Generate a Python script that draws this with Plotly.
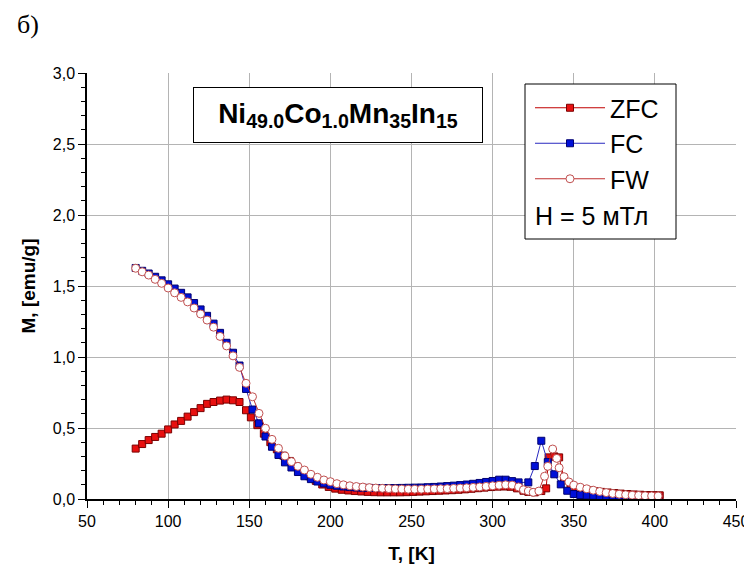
import plotly.graph_objects as go

# ---------------- data ----------------
T_zfc = [80, 84, 88, 92, 96, 100, 104, 108, 112, 116, 120, 124, 128, 132, 136, 140, 144, 148,
         151, 155, 159, 163, 167, 171, 175, 179, 183, 187, 191, 195, 199, 203, 207, 211, 215, 219,
         223, 227, 231, 235, 239, 243, 247, 251, 255, 259, 263, 267, 271, 275, 279, 283, 287, 291,
         295, 299, 303, 307, 311, 315, 319,
         322, 326, 330, 333, 334.5, 338, 341, 344, 348, 351,
         355, 359, 363, 367, 371, 375, 379, 383, 387, 391, 395, 399, 403]
M_zfc = [0.355, 0.387, 0.415, 0.437, 0.46, 0.49, 0.525, 0.55, 0.58, 0.612, 0.64, 0.67, 0.683, 0.693,
         0.70, 0.695, 0.683, 0.625,
         0.575, 0.52, 0.46, 0.40, 0.35, 0.305, 0.268, 0.232, 0.195, 0.16, 0.128, 0.102, 0.085, 0.073,
         0.065, 0.06, 0.056, 0.053, 0.05, 0.048, 0.047, 0.047, 0.047, 0.047, 0.048, 0.05, 0.052, 0.054,
         0.056, 0.058, 0.06, 0.062, 0.065, 0.068, 0.072, 0.076, 0.08, 0.084, 0.087, 0.088, 0.086, 0.075,
         0.058,
         0.05, 0.047, 0.056, 0.075, 0.293, 0.30, 0.293, 0.146, 0.099, 0.08,
         0.07, 0.062, 0.055, 0.05, 0.046, 0.042, 0.038, 0.035, 0.032, 0.03, 0.028, 0.027, 0.026]

T_fc = [80, 84, 88, 92, 96, 100, 104, 108, 112, 116, 120, 124, 128, 132, 136, 140, 144,
        148, 152, 156, 160, 164, 168, 172, 176, 180, 184, 188, 192, 196, 200, 204, 208, 212, 216,
        220, 224, 228, 232, 236, 240, 244, 248, 252, 256, 260, 264, 268, 272, 276, 280, 284, 288,
        292, 296, 300, 304, 308, 312, 316,
        322, 326, 330, 334, 338, 342, 346, 350, 354,
        358, 362, 366, 370, 374, 378, 382, 386, 390, 394, 398, 402]
M_fc = [1.627, 1.607, 1.588, 1.565, 1.54, 1.512, 1.482, 1.452, 1.42, 1.38, 1.335, 1.29, 1.235,
        1.17, 1.10, 1.03, 0.94,
        0.775, 0.63, 0.533, 0.44, 0.368, 0.31, 0.258, 0.222, 0.19, 0.16, 0.14, 0.123, 0.11, 0.10,
        0.093, 0.088, 0.084, 0.081, 0.079, 0.078, 0.077, 0.077, 0.077, 0.077, 0.078, 0.079, 0.08,
        0.081, 0.083, 0.085, 0.088, 0.091, 0.094, 0.098, 0.102, 0.107, 0.113, 0.12, 0.127, 0.136,
        0.136, 0.126, 0.117,
        0.117, 0.232, 0.41, 0.26, 0.174, 0.103, 0.058, 0.035, 0.028,
        0.025, 0.023, 0.021, 0.02, 0.019, 0.018, 0.017, 0.016, 0.016, 0.015, 0.015, 0.014]

T_fw = [80, 84, 88, 92, 96, 100, 104, 108, 112, 116, 120, 124, 128, 132, 136, 140, 144,
        148, 152, 156, 160, 164, 168, 172, 176, 180, 184, 188, 192, 196, 200, 204, 208, 212, 216,
        220, 224, 228, 232, 236, 240, 244, 248, 252, 256, 260, 264, 268, 272, 276, 280, 284, 288,
        292, 296, 300, 304, 308, 312, 316,
        319, 322, 325, 328.5, 332, 334, 337, 339.5, 341, 344, 347, 350,
        354, 358, 362, 366, 370, 374, 378, 382, 386, 390, 394, 398, 402]
M_fw = [1.625, 1.60, 1.577, 1.547, 1.519, 1.486, 1.452, 1.42, 1.388, 1.345, 1.303, 1.26, 1.21,
        1.145, 1.078, 1.008, 0.927,
        0.815, 0.72, 0.603, 0.498, 0.42, 0.357, 0.303, 0.263, 0.23, 0.204, 0.174, 0.153, 0.134,
        0.122, 0.108, 0.10, 0.093, 0.088, 0.084, 0.08, 0.077, 0.075, 0.073, 0.071, 0.07, 0.069,
        0.069, 0.069, 0.07, 0.071, 0.072, 0.073, 0.075, 0.077, 0.079, 0.082, 0.085, 0.089, 0.093,
        0.097, 0.10, 0.098, 0.085,
        0.065, 0.056, 0.047, 0.056, 0.16, 0.23, 0.352, 0.286, 0.22, 0.157, 0.12, 0.098,
        0.083, 0.072, 0.062, 0.053, 0.045, 0.039, 0.034, 0.03, 0.027, 0.025, 0.023, 0.022, 0.021]

x_ticks = [50, 100, 150, 200, 250, 300, 350, 400, 450]
y_ticks = [0.0, 0.5, 1.0, 1.5, 2.0, 2.5, 3.0]

series_names = ["ZFC", "FC", "FW"]
title_text = "<b>Ni<sub>49.0</sub>Co<sub>1.0</sub>Mn<sub>35</sub>In<sub>15</sub></b>"
field_text = "H = 5 мТл"

# ---------------- layout geometry (screen pixels) ----------------
OFF = 8                      # default page body margin
SW, SH = 752, 573            # browser window
W, H = SW - OFF, SH - OFF    # figure size so that it fits the window
L, R, T, B = 87, 736, 73, 499  # plot area in screen pixels
PW, PH = R - L, B - T


def px(x):
    return (x - L) / PW


def py(y):
    return (B - y) / PH


FONT = "Liberation Sans, Arial, sans-serif"

fig = go.Figure()

fig.add_trace(go.Scatter(
    x=T_zfc, y=M_zfc, name=series_names[0], mode="lines+markers",
    line=dict(color="#c00000", width=1),
    marker=dict(symbol="square", size=7, color="#e81010",
                line=dict(color="#7a0000", width=1)),
))
fig.add_trace(go.Scatter(
    x=T_fc, y=M_fc, name=series_names[1], mode="lines+markers",
    line=dict(color="#2a2ac0", width=1),
    marker=dict(symbol="square", size=7, color="#0010d8",
                line=dict(color="#000070", width=1)),
))
fig.add_trace(go.Scatter(
    x=T_fw, y=M_fw, name=series_names[2], mode="lines+markers",
    line=dict(color="#c03030", width=1),
    marker=dict(symbol="circle", size=8, color="white",
                line=dict(color="#c05050", width=1)),
))

axis_common = dict(
    showline=True, linecolor="black", linewidth=1.5,
    tickcolor="black", tickwidth=1.2, ticklen=7,
    zeroline=False, automargin=False,
)

fig.update_layout(
    width=W, height=H,
    margin=dict(l=L - OFF, r=W - (R - OFF), t=T - OFF, b=H - (B - OFF), pad=0, autoexpand=False),
    paper_bgcolor="white", plot_bgcolor="white",
    separators=", ",
    font=dict(family=FONT, size=16, color="black"),
    showlegend=True,
    legend=dict(
        x=px(530), y=py(85), xanchor="left", yanchor="top",
        bgcolor="rgba(0,0,0,0)", borderwidth=0,
        font=dict(family=FONT, size=25, color="black"),
        itemwidth=70, tracegroupgap=0,
    ),
    xaxis=dict(
        range=[50, 450], tickvals=x_ticks, ticks="outside",
        showgrid=True, gridcolor="#b4b4b4", gridwidth=1,
        minor=dict(dtick=10, ticks="outside", ticklen=4, tickcolor="black", showgrid=False),
        title=dict(text="<b>T, [K]</b>", font=dict(size=19), standoff=18),
        tickfont=dict(size=16),
        **axis_common,
    ),
    yaxis=dict(
        range=[0, 3], tickvals=y_ticks, tickformat=".1f", ticks="outside",
        showgrid=True, gridcolor="#b4b4b4", gridwidth=1,
        minor=dict(dtick=0.1, ticks="outside", ticklen=4, tickcolor="black", showgrid=False),
        title=dict(text="<b>M, [emu/g]</b>", font=dict(size=19), standoff=12),
        tickfont=dict(size=16),
        **axis_common,
    ),
    xaxis2=dict(
        overlaying="x", side="top", anchor="y", range=[50, 450], tickvals=x_ticks,
        ticks="inside", showticklabels=False, showgrid=False,
        minor=dict(dtick=10, ticks="inside", ticklen=4, tickcolor="black", showgrid=False),
        **axis_common,
    ),
    yaxis2=dict(
        overlaying="y", side="right", anchor="x", range=[0, 3], tickvals=y_ticks,
        ticks="inside", showticklabels=False, showgrid=False,
        minor=dict(dtick=0.1, ticks="inside", ticklen=4, tickcolor="black", showgrid=False),
        **axis_common,
    ),
)

# legend frame
fig.add_shape(type="rect", xref="paper", yref="paper",
              x0=px(525), x1=px(676), y0=py(239), y1=py(84),
              line=dict(color="black", width=1), fillcolor="white", layer="above")

annotations = [
    dict(text=field_text, x=px(533), y=py(216), xanchor="left", yanchor="middle",
         font=dict(family=FONT, size=25, color="black")),
    dict(text=title_text, x=px(338), y=py(115), xanchor="center", yanchor="middle",
         font=dict(family=FONT, size=28, color="black"),
         width=286, height=52, bordercolor="black", borderwidth=1, borderpad=1,
         bgcolor="white", align="center", valign="middle"),
    dict(text="б)", x=px(28), y=py(24), xanchor="center", yanchor="middle",
         font=dict(family="Liberation Serif, Times New Roman, serif", size=26, color="black")),
    dict(text="<b>M, [emu/g]</b>", x=px(758), y=py(300), xanchor="center", yanchor="middle",
         textangle=-90, font=dict(family=FONT, size=19, color="black")),
]
for a in annotations:
    fig.add_annotation(xref="paper", yref="paper", showarrow=False, **a)

fig.write_html("out.html")
